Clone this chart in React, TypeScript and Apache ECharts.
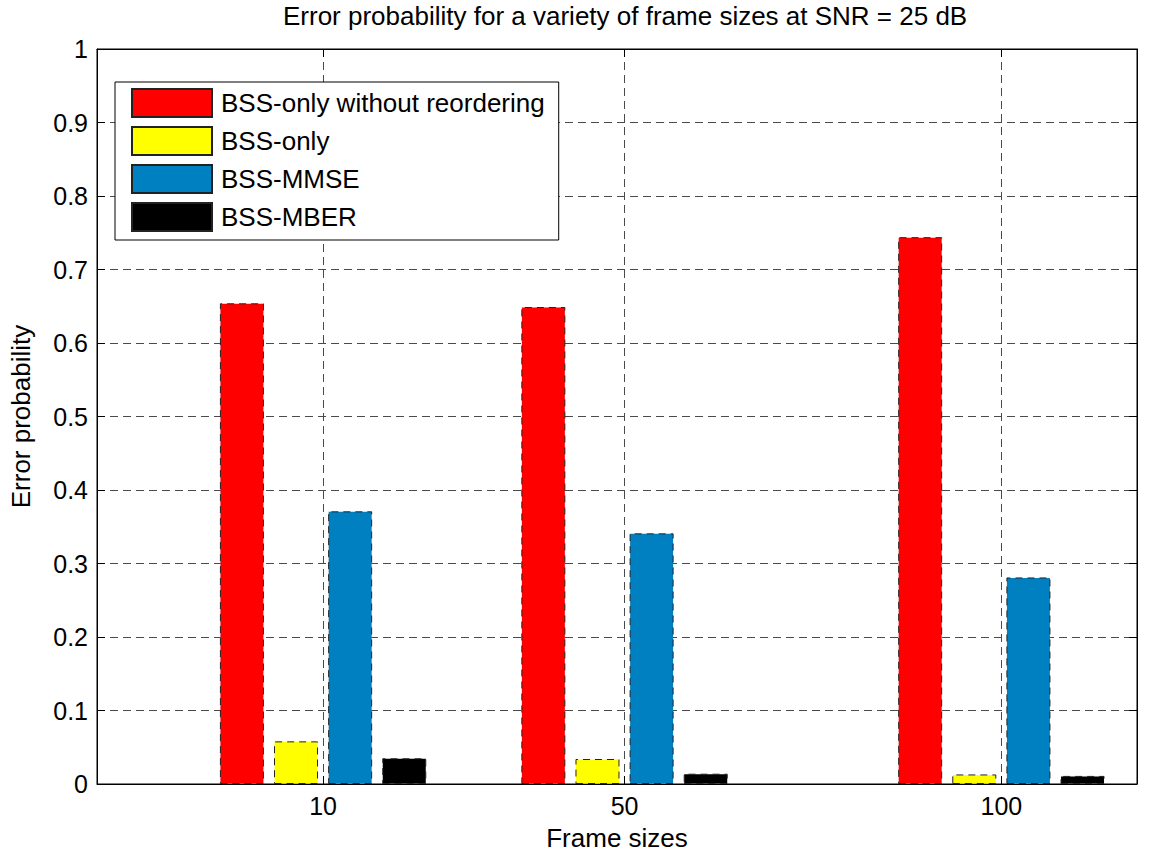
import React, { useEffect, useRef } from "react";
import * as echarts from "echarts";

const chartTitle = "Error probability for a variety of frame sizes at SNR = 25 dB";
const xAxisName = "Frame sizes";
const yAxisName = "Error probability";
const frameSizes = [10, 50, 100];
const seriesNames = ["BSS-only without reordering", "BSS-only", "BSS-MMSE", "BSS-MBER"];
const withoutReordering = [0.654, 0.649, 0.744];
const bssOnly = [0.058, 0.034, 0.013];
const bssMmse = [0.371, 0.341, 0.281];
const bssMber = [0.035, 0.014, 0.011];
const seriesColors = ["#ff0000", "#ffff00", "#0080c0", "#000000"];

const FONT = "'Liberation Sans', Arial, Helvetica, sans-serif";

export default function App() {
  const ref = useRef<HTMLDivElement>(null);
  useEffect(() => {
    if (!ref.current) return;
    const chart = echarts.init(ref.current, undefined, { renderer: "svg" });
    const values = [withoutReordering, bssOnly, bssMmse, bssMber];
    const gridLine = { show: true, lineStyle: { color: "#4a4a4a", type: [8, 5] as any, width: 1 } };
    const series = seriesNames.map((name, i) => ({
      name,
      type: "bar",
      xAxisIndex: 0,
      yAxisIndex: 0,
      barWidth: 44,
      barGap: "23%",
      data: frameSizes.map((x, j) => [x, values[i][j]]),
      itemStyle: {
        color: seriesColors[i],
        borderColor: "#222",
        borderWidth: 1,
        borderType: [7, 5],
      },
    }));
    chart.setOption({
      animation: false,
      backgroundColor: "#fff",
      textStyle: { fontFamily: FONT },
      title: {
        text: chartTitle,
        left: 283,
        top: 3,
        padding: 0,
        textStyle: { fontSize: 26, fontWeight: "normal", color: "#000", fontFamily: FONT },
      },
      grid: {
        left: 97,
        right: 15,
        top: 49,
        bottom: 68,
        show: true,
        borderColor: "#000",
        borderWidth: 1,
        backgroundColor: "transparent",
        containLabel: false,
        outerBoundsMode: "none",
      },
      legend: {
        orient: "vertical",
        left: 115,
        top: 82,
        icon: "rect",
        itemWidth: 80,
        itemHeight: 28,
        itemGap: 8,
        padding: [6, 14, 8, 16],
        backgroundColor: "#fff",
        borderColor: "#000",
        borderWidth: 1,
        borderRadius: 0,
        textStyle: { fontSize: 26, color: "#000", fontFamily: FONT, padding: [0, 0, 0, 4] },
        data: seriesNames,
      },
      xAxis: [
        {
          type: "value",
          min: -20,
          max: 118,
          position: "bottom",
          axisLine: { show: true, onZero: false, lineStyle: { color: "#000", width: 1 } },
          axisTick: { show: true, inside: true, length: 8, customValues: frameSizes, lineStyle: { color: "#000" } },
          axisLabel: { customValues: frameSizes, fontSize: 25, color: "#000", margin: 9, fontFamily: FONT },
          splitLine: gridLine,
          name: xAxisName,
          nameLocation: "middle",
          nameGap: 41,
          nameTextStyle: { fontSize: 26, lineHeight: 26, color: "#000", fontFamily: FONT },
        },
        {
          type: "value",
          min: -20,
          max: 118,
          position: "top",
          axisLine: { show: true, onZero: false, lineStyle: { color: "#000", width: 1 } },
          axisTick: { show: true, inside: true, length: 8, customValues: frameSizes, lineStyle: { color: "#000" } },
          axisLabel: { show: false, customValues: frameSizes },
          splitLine: { show: false },
        },
      ],
      yAxis: [
        {
          type: "value",
          min: 0,
          max: 1,
          interval: 0.1,
          position: "left",
          axisLine: { show: true, onZero: false, lineStyle: { color: "#000", width: 1 } },
          axisTick: { show: true, inside: true, length: 8, lineStyle: { color: "#000" } },
          axisLabel: { fontSize: 25, color: "#000", margin: 9, fontFamily: FONT },
          splitLine: gridLine,
          name: yAxisName,
          nameLocation: "middle",
          nameGap: 63,
          nameRotate: 90,
          nameTextStyle: { fontSize: 26, color: "#000", fontFamily: FONT },
        },
        {
          type: "value",
          min: 0,
          max: 1,
          interval: 0.1,
          position: "right",
          axisLine: { show: true, onZero: false, lineStyle: { color: "#000", width: 1 } },
          axisTick: { show: true, inside: true, length: 8, lineStyle: { color: "#000" } },
          axisLabel: { show: false },
          splitLine: { show: false },
        },
      ],
      series,
    });
    return () => chart.dispose();
  }, []);
  return (
    <div
      ref={ref}
      style={{ position: "absolute", left: 0, top: 0, width: 1152, height: 852, background: "#fff" }}
    />
  );
}
